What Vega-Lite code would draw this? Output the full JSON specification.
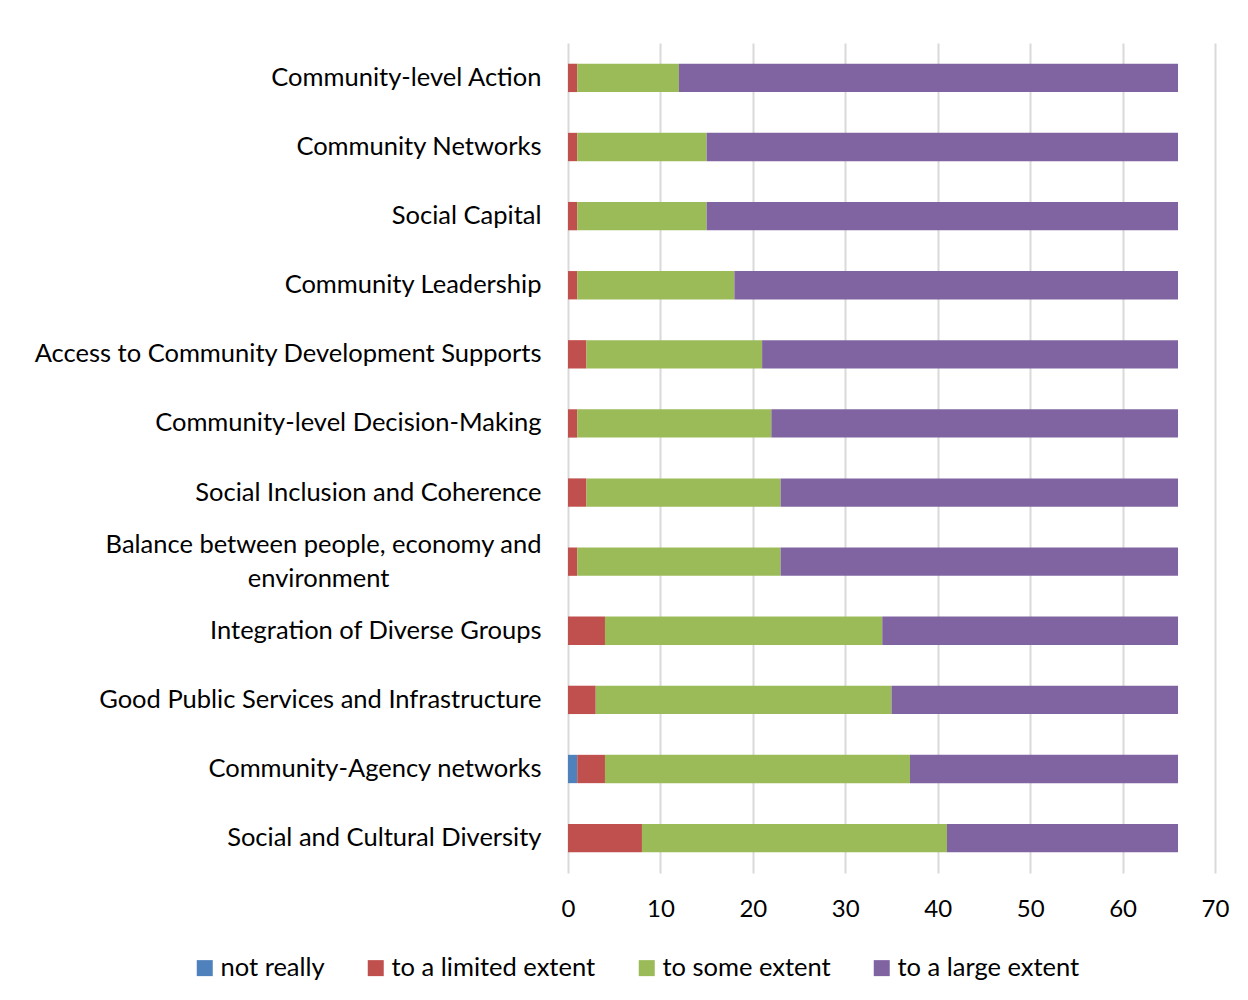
{
  "$schema": "https://vega.github.io/schema/vega-lite/v6.json",
  "width": 647,
  "height": 830,
  "padding": {"left": 33, "top": 43, "right": 25, "bottom": 10},
  "background": "white",
  "data": {
    "values": [
      {"item": "Community-level Action", "response": "not really", "value": 0},
      {"item": "Community-level Action", "response": "to a limited extent", "value": 1},
      {"item": "Community-level Action", "response": "to some extent", "value": 11},
      {"item": "Community-level Action", "response": "to a large extent", "value": 54},
      {"item": "Community Networks", "response": "not really", "value": 0},
      {"item": "Community Networks", "response": "to a limited extent", "value": 1},
      {"item": "Community Networks", "response": "to some extent", "value": 14},
      {"item": "Community Networks", "response": "to a large extent", "value": 51},
      {"item": "Social Capital", "response": "not really", "value": 0},
      {"item": "Social Capital", "response": "to a limited extent", "value": 1},
      {"item": "Social Capital", "response": "to some extent", "value": 14},
      {"item": "Social Capital", "response": "to a large extent", "value": 51},
      {"item": "Community Leadership", "response": "not really", "value": 0},
      {"item": "Community Leadership", "response": "to a limited extent", "value": 1},
      {"item": "Community Leadership", "response": "to some extent", "value": 17},
      {"item": "Community Leadership", "response": "to a large extent", "value": 48},
      {"item": "Access to Community Development Supports", "response": "not really", "value": 0},
      {"item": "Access to Community Development Supports", "response": "to a limited extent", "value": 2},
      {"item": "Access to Community Development Supports", "response": "to some extent", "value": 19},
      {"item": "Access to Community Development Supports", "response": "to a large extent", "value": 45},
      {"item": "Community-level Decision-Making", "response": "not really", "value": 0},
      {"item": "Community-level Decision-Making", "response": "to a limited extent", "value": 1},
      {"item": "Community-level Decision-Making", "response": "to some extent", "value": 21},
      {"item": "Community-level Decision-Making", "response": "to a large extent", "value": 44},
      {"item": "Social Inclusion and Coherence", "response": "not really", "value": 0},
      {"item": "Social Inclusion and Coherence", "response": "to a limited extent", "value": 2},
      {"item": "Social Inclusion and Coherence", "response": "to some extent", "value": 21},
      {"item": "Social Inclusion and Coherence", "response": "to a large extent", "value": 43},
      {"item": "Balance between people, economy and environment", "response": "not really", "value": 0},
      {"item": "Balance between people, economy and environment", "response": "to a limited extent", "value": 1},
      {"item": "Balance between people, economy and environment", "response": "to some extent", "value": 22},
      {"item": "Balance between people, economy and environment", "response": "to a large extent", "value": 43},
      {"item": "Integration of Diverse Groups", "response": "not really", "value": 0},
      {"item": "Integration of Diverse Groups", "response": "to a limited extent", "value": 4},
      {"item": "Integration of Diverse Groups", "response": "to some extent", "value": 30},
      {"item": "Integration of Diverse Groups", "response": "to a large extent", "value": 32},
      {"item": "Good Public Services and Infrastructure", "response": "not really", "value": 0},
      {"item": "Good Public Services and Infrastructure", "response": "to a limited extent", "value": 3},
      {"item": "Good Public Services and Infrastructure", "response": "to some extent", "value": 32},
      {"item": "Good Public Services and Infrastructure", "response": "to a large extent", "value": 31},
      {"item": "Community-Agency networks", "response": "not really", "value": 1},
      {"item": "Community-Agency networks", "response": "to a limited extent", "value": 3},
      {"item": "Community-Agency networks", "response": "to some extent", "value": 33},
      {"item": "Community-Agency networks", "response": "to a large extent", "value": 29},
      {"item": "Social and Cultural Diversity", "response": "not really", "value": 0},
      {"item": "Social and Cultural Diversity", "response": "to a limited extent", "value": 8},
      {"item": "Social and Cultural Diversity", "response": "to some extent", "value": 33},
      {"item": "Social and Cultural Diversity", "response": "to a large extent", "value": 25}
    ]
  },
  "transform": [
    {"calculate": "indexof(['not really','to a limited extent','to some extent','to a large extent'], datum.response)", "as": "stackOrder"}
  ],
  "mark": {"type": "bar", "stroke": null},
  "encoding": {
    "y": {
      "field": "item",
      "type": "nominal",
      "sort": null,
      "scale": {"paddingInner": 0.59, "paddingOuter": 0.3},
      "axis": {
        "title": null,
        "domain": false,
        "ticks": false,
        "labelFontSize": 25.5,
        "labelFont": "Lato",
        "labelColor": "#000000",
        "labelPadding": 27,
        "labelLimit": 600,
        "labelLineHeight": 34,
        "labelOffset": {"condition": {"test": "datum.value == 'Balance between people, economy and environment'", "value": -17}, "value": 0},
        "labelExpr": "datum.value == 'Balance between people, economy and environment' ? ['Balance between people, economy and', 'environment\u2800\u2800\u2800\u2800\u2800\u2800\u2800\u2800'] : datum.value"
      }
    },
    "x": {
      "field": "value",
      "type": "quantitative",
      "stack": "zero",
      "scale": {"domain": [0, 70], "nice": false},
      "axis": {
        "title": null,
        "values": [0, 10, 20, 30, 40, 50, 60, 70],
        "domain": false,
        "ticks": false,
        "grid": true,
        "gridColor": "#d9d9d9",
        "gridWidth": 2,
        "labelFontSize": 24,
        "labelFont": "Lato",
        "labelColor": "#000000",
        "labelPadding": 24,
        "labelFlush": false
      }
    },
    "color": {
      "field": "response",
      "type": "nominal",
      "scale": {
        "domain": ["not really", "to a limited extent", "to some extent", "to a large extent"],
        "range": ["#4F81BD", "#C0504D", "#9BBB59", "#8064A2"]
      },
      "legend": {
        "title": null,
        "orient": "none",
        "legendX": -376,
        "legendY": 912,
        "direction": "horizontal",
        "symbolType": "square",
        "symbolSize": 256,
        "symbolStrokeWidth": 0,
        "labelFontSize": 25.5,
        "labelFont": "Lato",
        "labelColor": "#000000",
        "labelLimit": 400,
        "columnPadding": 38,
        "labelOffset": 3
      }
    },
    "order": {"field": "stackOrder", "type": "quantitative"}
  },
  "config": {"view": {"stroke": null}}
}
